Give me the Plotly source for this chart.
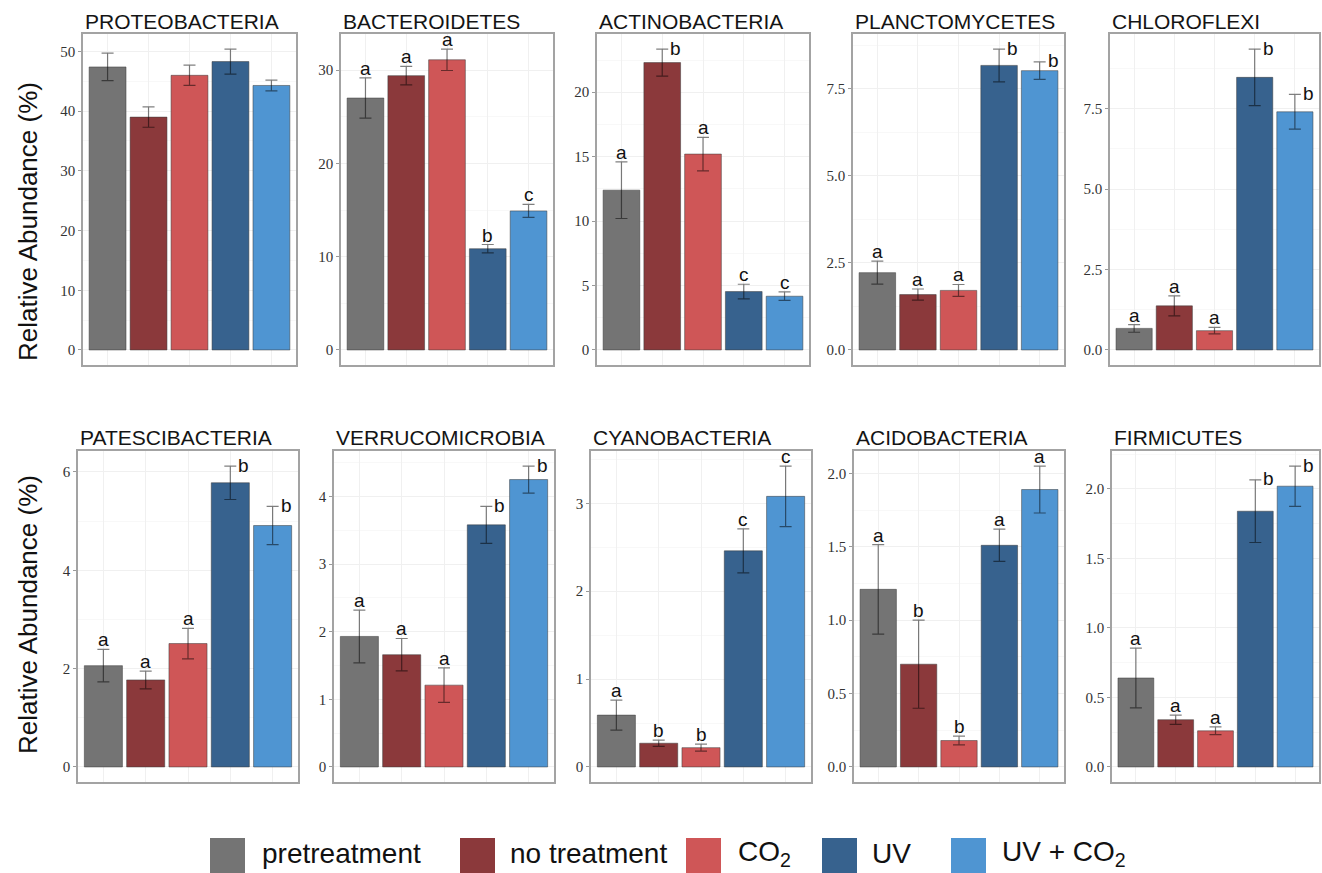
import plotly.graph_objects as go

# ---------------- data ----------------
groups = ["pretreatment", "no treatment", "CO<sub>2</sub>", "UV", "UV + CO<sub>2</sub>"]

phyla = ["PROTEOBACTERIA", "BACTEROIDETES", "ACTINOBACTERIA", "PLANCTOMYCETES", "CHLOROFLEXI",
         "PATESCIBACTERIA", "VERRUCOMICROBIA", "CYANOBACTERIA", "ACIDOBACTERIA", "FIRMICUTES"]

proteobacteria_mean = [47.4, 39.0, 46.0, 48.3, 44.3]
proteobacteria_se = [2.3, 1.7, 1.7, 2.1, 0.9]
proteobacteria_letters = ["", "", "", "", ""]

bacteroidetes_mean = [27.0, 29.4, 31.1, 10.85, 14.9]
bacteroidetes_se = [2.15, 1.0, 1.15, 0.45, 0.7]
bacteroidetes_letters = ["a", "a", "a", "b", "c"]

actinobacteria_mean = [12.4, 22.3, 15.2, 4.53, 4.17]
actinobacteria_se = [2.2, 1.05, 1.3, 0.57, 0.33]
actinobacteria_letters = ["a", "b", "a", "c", "c"]

planctomycetes_mean = [2.22, 1.59, 1.71, 8.17, 8.02]
planctomycetes_se = [0.33, 0.16, 0.17, 0.47, 0.25]
planctomycetes_letters = ["a", "a", "a", "b", "b"]

chloroflexi_mean = [0.67, 1.37, 0.60, 8.47, 7.40]
chloroflexi_se = [0.12, 0.31, 0.10, 0.88, 0.54]
chloroflexi_letters = ["a", "a", "a", "b", "b"]

patescibacteria_mean = [2.06, 1.77, 2.51, 5.78, 4.91]
patescibacteria_se = [0.33, 0.18, 0.31, 0.34, 0.39]
patescibacteria_letters = ["a", "a", "a", "b", "b"]

verrucomicrobia_mean = [1.93, 1.66, 1.21, 3.58, 4.25]
verrucomicrobia_se = [0.39, 0.24, 0.255, 0.275, 0.20]
verrucomicrobia_letters = ["a", "a", "a", "b", "b"]

cyanobacteria_mean = [0.59, 0.27, 0.22, 2.46, 3.08]
cyanobacteria_se = [0.17, 0.035, 0.04, 0.25, 0.345]
cyanobacteria_letters = ["a", "b", "b", "c", "c"]

acidobacteria_mean = [1.21, 0.70, 0.18, 1.51, 1.89]
acidobacteria_se = [0.305, 0.30, 0.03, 0.11, 0.16]
acidobacteria_letters = ["a", "b", "b", "a", "a"]

firmicutes_mean = [0.64, 0.34, 0.26, 1.84, 2.02]
firmicutes_se = [0.215, 0.033, 0.028, 0.225, 0.145]
firmicutes_letters = ["a", "a", "a", "b", "b"]

y_tick_step = [10, 10, 5, 2.5, 2.5, 2, 1, 1, 0.5, 0.5]
y_tick_format = ["d", "d", "d", ".1f", ".1f", "d", "d", "d", ".1f", ".1f"]

# ---------------- styles ----------------
W, H = 1322, 873
colors = ["#747474", "#8b393b", "#cf5657", "#37628e", "#4f95d2"]

means = [proteobacteria_mean, bacteroidetes_mean, actinobacteria_mean, planctomycetes_mean,
         chloroflexi_mean, patescibacteria_mean, verrucomicrobia_mean, cyanobacteria_mean,
         acidobacteria_mean, firmicutes_mean]
ses = [proteobacteria_se, bacteroidetes_se, actinobacteria_se, planctomycetes_se,
       chloroflexi_se, patescibacteria_se, verrucomicrobia_se, cyanobacteria_se,
       acidobacteria_se, firmicutes_se]
letters = [proteobacteria_letters, bacteroidetes_letters, actinobacteria_letters,
           planctomycetes_letters, chloroflexi_letters, patescibacteria_letters,
           verrucomicrobia_letters, cyanobacteria_letters, acidobacteria_letters,
           firmicutes_letters]

# letter placement: "t" = on top of error bar, "r" = right of error bar cap
letter_place = [
    ["t"] * 5,
    ["t"] * 5,
    ["t", "r", "t", "t", "t"],
    ["t", "t", "t", "r", "r"],
    ["t", "t", "t", "r", "r"],
    ["t", "t", "t", "r", "r"],
    ["t", "t", "t", "r", "r"],
    ["t"] * 5,
    ["t"] * 5,
    ["t", "t", "t", "r", "r"],
]

# panel boxes in pixels: left, right, top, bottom
boxes = [
    (83, 296, 34, 365), (341, 553, 34, 365), (597, 809, 34, 365),
    (853, 1064, 34, 365), (1110, 1319, 34, 365),
    (78, 298, 451, 782), (334, 554, 451, 782), (591, 811, 451, 782),
    (854, 1064, 451, 782), (1112, 1319, 451, 782),
]
title_y = [21] * 5 + [437] * 5

border_col = "#a3a3a3"
grid_col = "#f0f0f0"
minor_col = "#f8f8f8"

fig = go.Figure()
annotations = []
shapes = []
layout_axes = {}

for i in range(10):
    n = i + 1
    xa = "x" if n == 1 else f"x{n}"
    ya = "y" if n == 1 else f"y{n}"
    xname = "xaxis" if n == 1 else f"xaxis{n}"
    yname = "yaxis" if n == 1 else f"yaxis{n}"
    l, r, t, b = boxes[i]
    top_val = max(m + s for m, s in zip(means[i], ses[i]))

    fig.add_trace(go.Bar(
        x=list(range(len(groups))), y=means[i], width=0.9,
        marker=dict(color=colors, line=dict(color="rgba(60,60,60,0.65)", width=0.8)),
        error_y=dict(type="data", array=ses[i], visible=True,
                     color="rgba(0,0,0,0.5)", thickness=1.2, width=6),
        showlegend=False, hoverinfo="skip", xaxis=xa, yaxis=ya,
    ))

    layout_axes[xname] = dict(
        domain=[l / W, r / W], anchor=ya, range=[-0.6, len(groups) - 0.4],
        tickvals=list(range(len(groups))), showticklabels=False, ticks="",
        showgrid=True, gridcolor=grid_col, gridwidth=1,
        showline=True, linecolor=border_col, linewidth=1.5, mirror=True,
        zeroline=False, fixedrange=True,
    )
    step = y_tick_step[i]
    layout_axes[yname] = dict(
        domain=[1 - b / H, 1 - t / H], anchor=xa,
        range=[-0.05 * top_val, 1.05 * top_val],
        tick0=0, dtick=step, tickformat=y_tick_format[i],
        showgrid=True, gridcolor=grid_col, gridwidth=1,
        minor=dict(dtick=step / 2, tick0=0, showgrid=True, gridcolor=minor_col, ticks=""),
        ticks="outside", ticklen=3, tickcolor="#9a9a9a", tickwidth=1,
        tickfont=dict(family="Liberation Serif, Times New Roman, serif", size=15, color="#333333"),
        showline=True, linecolor=border_col, linewidth=1.5, mirror=True,
        zeroline=False, fixedrange=True,
    )

    annotations.append(dict(
        text=phyla[i], xref="paper", yref="paper", x=l / W, y=1 - title_y[i] / H,
        xanchor="left", yanchor="middle", showarrow=False,
        font=dict(family="Liberation Sans, Arial, sans-serif", size=21, color="#141414"),
    ))

    for j, lab in enumerate(letters[i]):
        if not lab:
            continue
        yv = means[i][j] + ses[i][j]
        if letter_place[i][j] == "t":
            annotations.append(dict(
                text=lab, xref=xa, yref=ya, x=j, y=yv, xanchor="center", yanchor="bottom",
                yshift=-3, showarrow=False,
                font=dict(family="Liberation Sans, Arial, sans-serif", size=19, color="#111111"),
            ))
        else:
            annotations.append(dict(
                text=lab, xref=xa, yref=ya, x=j, y=yv, xanchor="left", yanchor="middle",
                xshift=6, yshift=1, showarrow=False,
                font=dict(family="Liberation Sans, Arial, sans-serif", size=19, color="#111111"),
            ))

# row axis titles
for yc in (222, 615):
    annotations.append(dict(
        text="Relative Abundance (%)", xref="paper", yref="paper", x=28 / W, y=1 - yc / H,
        xanchor="center", yanchor="middle", textangle=-90, showarrow=False,
        font=dict(family="Liberation Sans, Arial, sans-serif", size=26, color="#111111"),
    ))

# legend drawn as keys + labels
legend_sq_left = [210, 460, 686, 822, 951]
legend_txt_left = [260, 508, 736, 870, 1000]
for k, g in enumerate(groups):
    shapes.append(dict(
        type="rect", xref="paper", yref="paper",
        x0=legend_sq_left[k] / W, x1=(legend_sq_left[k] + 35) / W,
        y0=1 - 874 / H, y1=1 - 838 / H,
        fillcolor=colors[k], line=dict(width=0), layer="above",
    ))
    annotations.append(dict(
        text=g, xref="paper", yref="paper", x=legend_txt_left[k] / W, y=1 - 853 / H,
        xanchor="left", yanchor="middle", showarrow=False,
        font=dict(family="Liberation Sans, Arial, sans-serif", size=28, color="#111111"),
    ))

fig.update_layout(
    width=W, height=H, margin=dict(l=0, r=0, t=0, b=0),
    paper_bgcolor="white", plot_bgcolor="white",
    annotations=annotations, shapes=shapes, showlegend=False,
    **layout_axes,
)

fig.write_html("out.html", config={"displayModeBar": False},
               post_script="document.body.style.margin='0';")
